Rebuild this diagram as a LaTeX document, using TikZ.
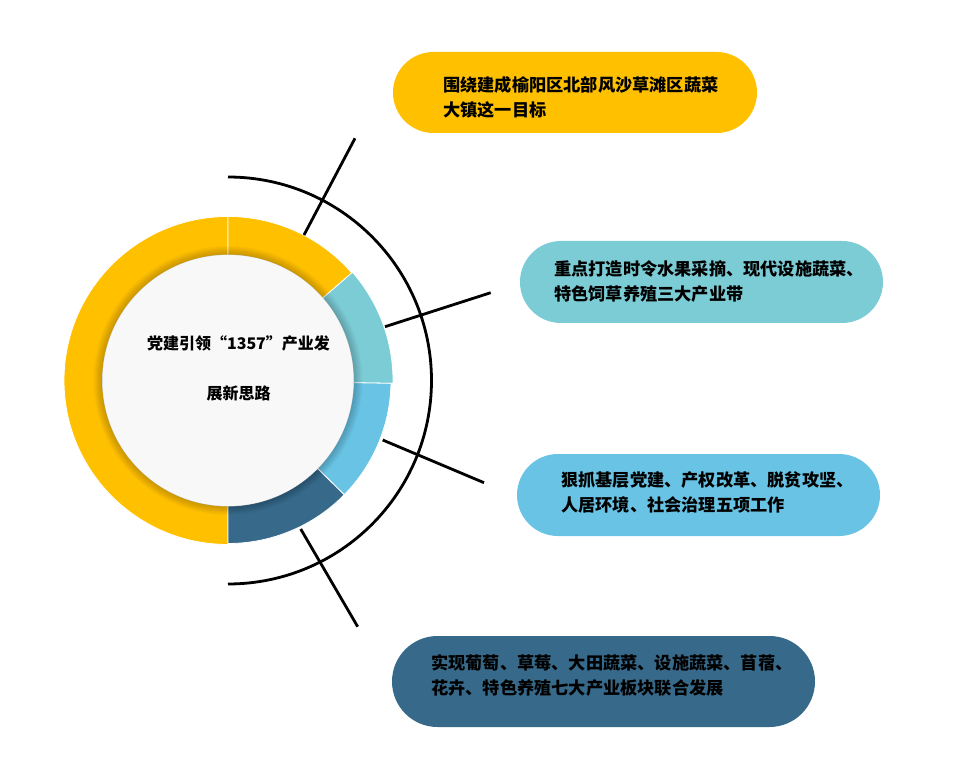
\documentclass[tikz,border=0pt]{standalone}
\usepackage{fontspec}
\newfontfamily\cjk{Noto Sans CJK SC}
\definecolor{cyel}{HTML}{FFC000}
\definecolor{cteal}{HTML}{7CCCD6}
\definecolor{cblue}{HTML}{69C3E4}
\definecolor{cdark}{HTML}{376A8A}
\definecolor{cinner}{HTML}{F8F8F8}
\begin{document}
\begin{tikzpicture}[x=1pt,y=-1pt,
  pill/.style={rounded corners=#1, inner sep=0pt, outer sep=0pt},
  boxtext/.style={anchor=west, align=left, inner sep=0pt, text=black,
    font=\cjk\bfseries\fontsize{17.2}{25}\selectfont},
  leader/.style={line width=2.8pt, draw=black},
  seg/.style={fill=#1, draw=white, line width=0.8pt},
]
\useasboundingbox[fill=white] (0,0) rectangle (969,775);

% ring
\begin{scope}[shift={(228,380.5)}, yscale=-1]
  \coordinate (c) at (0,0);
  \fill[seg=cyel] (90:164) arc[start angle=90,end angle=270,radius=164]
     -- (270:125.5) arc[start angle=270,end angle=90,radius=125.5] -- cycle;
  \fill[seg=cyel] (41:164) arc[start angle=41,end angle=90,radius=164]
     -- (90:125.5) arc[start angle=90,end angle=41,radius=125.5] -- cycle;
  \fill[seg=cteal] (-1:165) arc[start angle=-1,end angle=41,radius=165]
     -- (41:125.5) arc[start angle=41,end angle=-1,radius=125.5] -- cycle;
  \fill[seg=cblue] (-44.5:163) arc[start angle=-44.5,end angle=-1,radius=163]
     -- (-1:125.5) arc[start angle=-1,end angle=-44.5,radius=125.5] -- cycle;
  \fill[seg=cdark] (-90:163) arc[start angle=-90,end angle=-44.5,radius=163]
     -- (-44.5:125.5) arc[start angle=-44.5,end angle=-90,radius=125.5] -- cycle;
  \foreach \k in {1,...,9} \fill[black, opacity=0.022] (c) circle (125.5+\k);
  \fill[cinner] (c) circle (125.5);
  \draw[leader] (90:203.5) arc[start angle=90,end angle=-90,radius=203.5];
\end{scope}

% radial leaders
\coordinate (l1a) at (304,235);   \coordinate (l1b) at (355,138.3);
\coordinate (l2a) at (385,326.7); \coordinate (l2b) at (490.7,292.7);
\coordinate (l3a) at (382.7,440); \coordinate (l3b) at (484,482.7);
\coordinate (l4a) at (300.7,529); \coordinate (l4b) at (357.7,626.7);
\draw[leader] (l1a) -- (l1b);
\draw[leader] (l2a) -- (l2b);
\draw[leader] (l3a) -- (l3b);
\draw[leader] (l4a) -- (l4b);

% centre text
\node[font=\cjk\bfseries\fontsize{16}{50}\selectfont, align=center, inner sep=0pt] (ct) at (238.5,368)
  {党建引领“1357”产业发\\展新思路};

% boxes
\node[pill=40.5pt, fill=cyel, minimum width=364pt, minimum height=81pt] (b1) at (575,92.5) {};
\node[pill=41pt, fill=cteal, minimum width=363pt, minimum height=82pt] (b2) at (701.5,282) {};
\node[pill=41pt, fill=cblue, minimum width=363pt, minimum height=82pt] (b3) at (698.5,495) {};
\node[pill=45.5pt, fill=cdark, minimum width=423pt, minimum height=91pt] (b4) at (603.5,681.5) {};

\node[boxtext] (t1) at (443,97.5) {围绕建成榆阳区北部风沙草滩区蔬菜\\大镇这一目标};
\node[boxtext] (t2) at (554,281) {重点打造时令水果采摘、现代设施蔬菜、\\特色饲草养殖三大产业带};
\node[boxtext] (t3) at (561,492.5) {狠抓基层党建、产权改革、脱贫攻坚、\\人居环境、社会治理五项工作};
\node[boxtext] (t4) at (431,675.5) {实现葡萄、草莓、大田蔬菜、设施蔬菜、苜蓿、\\花卉、特色养殖七大产业板块联合发展};
\end{tikzpicture}
\end{document}
